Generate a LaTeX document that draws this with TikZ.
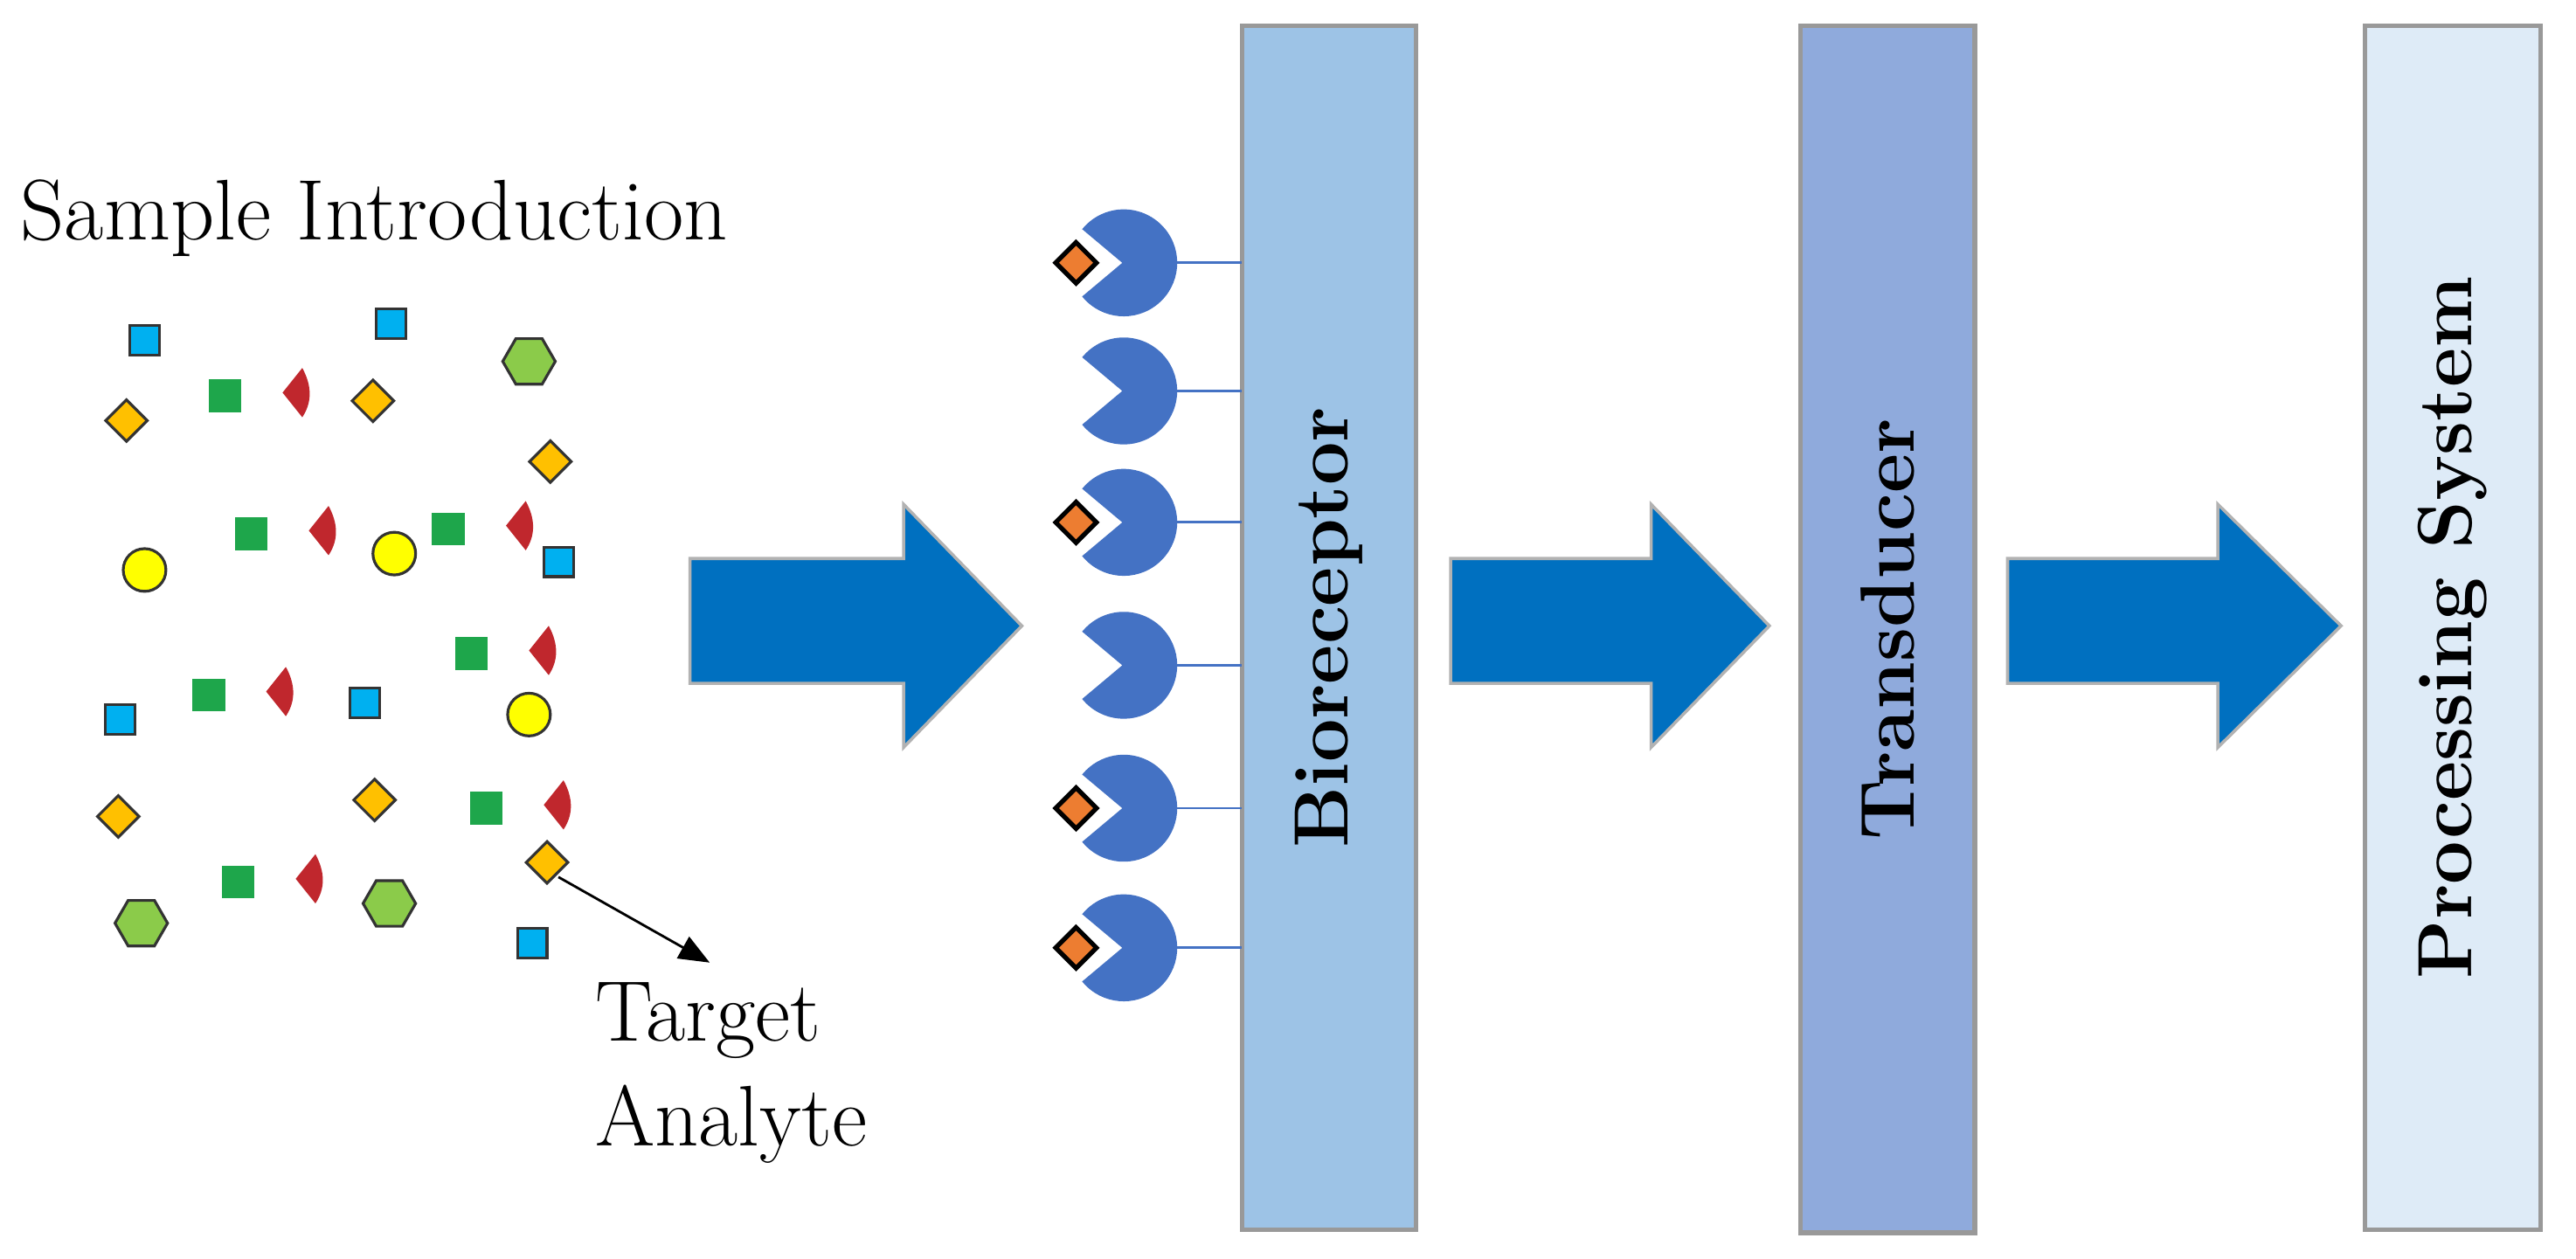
\documentclass[tikz,border=0pt]{standalone}
\usetikzlibrary{arrows.meta,shapes.geometric}
\definecolor{bluesq}{HTML}{00B0F0}
\definecolor{grn}{HTML}{1EA64B}
\definecolor{redw}{HTML}{C0272D}
\definecolor{orng}{HTML}{FFC000}
\definecolor{ylw}{HTML}{FFFF00}
\definecolor{hexg}{HTML}{8BCB4A}
\definecolor{pac}{HTML}{4472C4}
\definecolor{arr}{HTML}{0070C0}
\definecolor{tgt}{HTML}{ED7D31}
\definecolor{bar1}{HTML}{9DC3E6}
\definecolor{bar2}{HTML}{8FAADC}
\definecolor{bar3}{HTML}{DEEBF7}
\begin{document}
\begin{tikzpicture}[x=0.0188cm,y=-0.0188cm,
  bsq/.style={draw=black!80,line width=0.9pt,fill=bluesq,minimum size=18*0.0188cm,inner sep=0pt},
  gsq/.style={fill=grn,minimum size=20*0.0188cm,inner sep=0pt},
  dia/.style={diamond,draw=black!80,line width=0.9pt,fill=orng,minimum size=26*0.0188cm,inner sep=0pt},
  ycir/.style={circle,draw=black!80,line width=0.9pt,fill=ylw,minimum size=26*0.0188cm,inner sep=0pt},
  hex/.style={regular polygon,regular polygon sides=6,draw=black!80,line width=0.9pt,fill=hexg,minimum size=32*0.0188cm,inner sep=0pt},
  bar/.style={draw=black!40,line width=1.5pt},
  bigarrow/.style={fill=arr,draw=black!30,line width=1pt},
  lbl/.style={font=\fontsize{28}{34}\selectfont},
  blbl/.style={font=\fontsize{25}{30}\selectfont\bfseries,rotate=90},
  tg/.style={diamond,draw=black,line width=1.5pt,fill=tgt,minimum size=26*0.0188cm,inner sep=0pt}]
\useasboundingbox (0,0) rectangle (1568,766);

\node[lbl,anchor=west] (title) at (6,133) {Sample Introduction};

% bars
\node[bar,fill=bar1,minimum width=106*0.0188cm,minimum height=733*0.0188cm,inner sep=0pt] (bio) at (809,382) {};
\node[blbl] at (bio) {Bioreceptor};
\node[bar,fill=bar2,minimum width=106*0.0188cm,minimum height=735*0.0188cm,inner sep=0pt] (tra) at (1149,383) {};
\node[blbl] at (tra) {Transducer};
\node[bar,fill=bar3,minimum width=107*0.0188cm,minimum height=733*0.0188cm,inner sep=0pt] (pro) at (1493,382) {};
\node[blbl] at (pro) {Processing System};

% big arrows
\foreach \xa/\xb/\xc in {420/550/622, 883/1005/1077, 1222/1350/1425}{
  \draw[bigarrow] (\xa,340) -- (\xb,340) -- (\xb,307) -- (\xc,381) -- (\xb,455) -- (\xb,416) -- (\xa,416) -- cycle;
}

% bioreceptors
\foreach \i/\y/\t in {1/160/1,2/238/0,3/318/1,4/405/0,5/492/1,6/577/1}{
  \coordinate (p\i) at (684,\y);
  \draw[pac,line width=0.6pt,fill=pac] (p\i) ++(140:32) arc[start angle=140,end angle=-140,radius=32] -- (p\i) -- cycle;
  \coordinate (b\i) at (756,\y);
  \draw[pac,line width=0.8pt] (p\i) ++(32,0) -- (b\i);
  \ifnum\t=1 \node[tg] at (655,\y) {}; \fi
}

% sample shapes
\foreach \x/\y in {88/207,238/197,340/342,73/438,222/428,324/574}{\node[bsq] at (\x,\y) {};}
\foreach \x/\y in {137/241,153/325,273/322,127/423,287/398,296/492,145/537}{
  \node[gsq] at (\x,\y) {};
  \fill[redw] (\x+35,\y-2) -- (\x+47,\y-17) .. controls (\x+53,\y-6) and (\x+53,\y+4) .. (\x+47,\y+13) -- cycle;
}
\foreach \x/\y in {77/256,227/244,335/281,72/497,228/487}{\node[dia] at (\x,\y) {};}
\node[dia] (target) at (333,525) {};
\foreach \x/\y in {88/347,240/337,322/435}{\node[ycir] at (\x,\y) {};}
\foreach \x/\y in {322/220,86/562,237/550}{\node[hex] at (\x,\y) {};}

\node[lbl,align=left,anchor=north west,inner sep=0pt] (tlab) at (362,598) {Target\\Analyte};
\coordinate (tip) at (432,586);
\draw[-{Triangle[length=10pt,width=8pt]},line width=0.8pt] (target.south east) ++(0,2) -- (tip);
\end{tikzpicture}
\end{document}
